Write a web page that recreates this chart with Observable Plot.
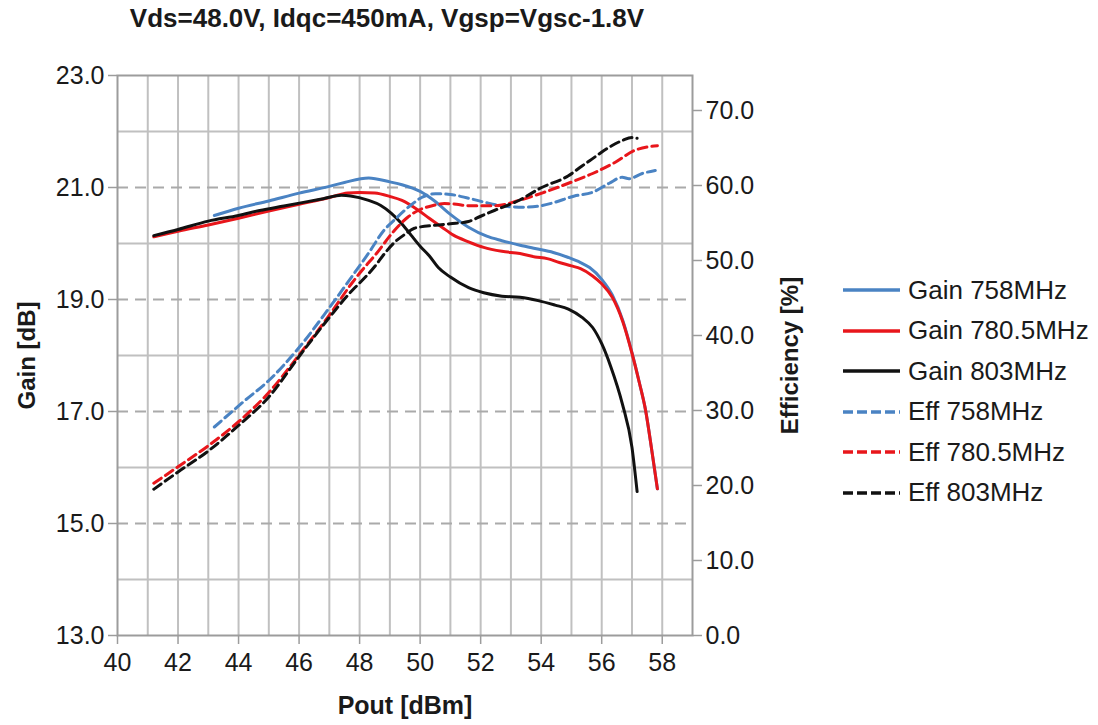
<!DOCTYPE html>
<html><head><meta charset="utf-8">
<script src="https://cdn.jsdelivr.net/npm/d3@7"></script>
<script src="https://cdn.jsdelivr.net/npm/@observablehq/plot@0.6"></script>
<style>
body{margin:0;background:#fff;font-family:"Liberation Sans",Arial,sans-serif;}
#wrap{position:relative;width:1098px;height:725px;overflow:hidden;}
#wrap svg.chart{position:absolute;left:0;top:0;}
#title{position:absolute;left:0;width:774px;top:3px;text-align:center;font-weight:bold;font-size:26px;color:#1a1a1a;white-space:nowrap;}
#legend{position:absolute;left:843px;top:270px;}
.row{display:flex;align-items:center;height:40.5px;font-size:26px;color:#1a1a1a;white-space:nowrap;}
.row svg{margin-right:8px;}
</style></head>
<body>
<div id="wrap">
  <div id="title">Vds=48.0V, Idqc=450mA, Vgsp=Vgsc-1.8V</div>
  <div id="legend"></div>
</div>
<script>
// ---- tick labels / grid values ----
const poutTicks = [40,42,44,46,48,50,52,54,56,58];
const poutGrid = [41,42,43,44,45,46,47,48,49,50,51,52,53,54,55,56,57,58];
const gainTicks = [13,15,17,19,21,23];
const gainGridSolid = [14,16,18,20,22];
const gainGridDashed = [15,17,19,21];
const effTicks = [0,10,20,30,40,50,60,70];

// ---- Gain 758MHz ----
const pout_g758 = [43.2,44.0,45.0,46.0,47.0,47.5,48.3,49.0,49.4,50.0,50.5,51.0,51.6,52.2,52.7,53.3,53.8,54.4,54.9,55.3,55.6,56.0,56.35,56.7,57.0,57.25,57.45,57.67,57.84];
const gain758 = [20.50,20.63,20.76,20.90,21.02,21.09,21.17,21.10,21.05,20.93,20.75,20.52,20.29,20.13,20.05,19.97,19.91,19.84,19.75,19.66,19.57,19.36,19.08,18.62,18.05,17.50,17.02,16.25,15.62];
// ---- Gain 780.5MHz ----
const pout_g780 = [41.2,42.0,43.0,44.0,45.0,46.0,47.0,47.6,48.0,48.5,49.0,49.4,49.95,50.3,50.7,51.1,51.6,52.1,52.7,53.3,53.8,54.2,54.6,55.0,55.3,55.7,56.0,56.35,56.7,57.0,57.25,57.45,57.67,57.84];
const gain780 = [20.12,20.22,20.33,20.45,20.58,20.70,20.82,20.90,20.91,20.90,20.84,20.77,20.59,20.45,20.30,20.15,20.03,19.93,19.86,19.82,19.76,19.73,19.66,19.60,19.55,19.42,19.28,19.04,18.60,18.04,17.50,17.02,16.25,15.62];
// ---- Gain 803MHz ----
const pout_g803 = [41.2,42.0,43.0,44.0,44.7,45.5,46.1,46.8,47.4,47.7,48.3,48.7,49.05,49.4,49.7,50.0,50.3,50.6,51.0,51.6,52.1,52.7,53.3,53.9,54.46,54.9,55.35,55.7,56.0,56.3,56.68,57.0,57.17];
const gain803 = [20.14,20.25,20.40,20.50,20.59,20.67,20.73,20.80,20.86,20.85,20.77,20.68,20.54,20.35,20.15,19.95,19.78,19.57,19.40,19.21,19.12,19.06,19.04,18.98,18.90,18.83,18.68,18.50,18.21,17.80,17.14,16.36,15.57];

// ---- Eff 758MHz ----
const pout_e758 = [43.2,44.2,45.0,46.0,47.0,48.0,48.3,48.8,49.2,49.7,50.05,50.5,51.0,51.6,52.2,52.7,53.4,54.0,54.4,55.1,55.7,56.25,56.68,56.9,57.34,57.77];
const eff758 = [27.8,31.3,34.0,38.4,43.7,49.3,51.0,54.0,55.6,57.4,58.4,58.9,58.8,58.3,57.7,57.3,57.1,57.3,57.7,58.6,59.1,60.3,61.1,60.9,61.6,62.0];
// ---- Eff 780.5MHz ----
const pout_e780 = [41.2,42.0,43.0,44.0,45.0,46.0,47.0,47.73,48.0,48.55,49.15,49.6,49.95,50.4,50.8,51.2,51.6,52.47,53.26,54.1,54.9,55.7,56.45,57.1,57.84];
const eff780 = [20.3,22.5,25.3,28.5,32.4,37.4,42.7,46.9,48.3,50.9,54.0,55.8,56.7,57.3,57.6,57.5,57.3,57.3,58.0,59.1,60.3,61.6,63.1,64.7,65.3];
// ---- Eff 803MHz ----
const pout_e803 = [41.2,42.0,43.0,44.0,45.0,46.0,47.0,47.8,48.0,48.5,48.82,49.15,49.5,49.81,50.5,51.0,51.6,52.0,52.47,53.26,54.0,54.9,55.35,55.6,56.25,56.68,57.0,57.17];
const eff803 = [19.5,21.8,24.6,28.0,31.8,37.2,42.4,46.2,47.0,49.2,50.9,52.4,53.5,54.3,54.7,54.9,55.2,55.9,56.7,58.0,59.7,61.3,62.6,63.3,65.1,66.0,66.4,66.3];

const seriesNames = ["Gain 758MHz","Gain 780.5MHz","Gain 803MHz","Eff 758MHz","Eff 780.5MHz","Eff 803MHz"];
const seriesColors = ["#4a83c3","#e8161b","#111111","#4a83c3","#e8161b","#111111"];

const rows = (xs, ys) => xs.map((x, i) => ({x, y: ys[i]}));
const gainSeries = [[pout_g758, gain758, 0],[pout_g780, gain780, 1],[pout_g803, gain803, 2]];
const effSeries = [[pout_e758, eff758, 3],[pout_e780, eff780, 4],[pout_e803, eff803, 5]];

const FONT = '"Liberation Sans", Arial, sans-serif';
const common = {
  width: 1098, height: 725,
  marginLeft: 117, marginRight: 406, marginTop: 75, marginBottom: 90,
  style: {fontFamily: FONT, fontSize: "25px", color: "#1a1a1a", background: "transparent", overflow: "visible"}
};
const GRID = "#c0c0c0", AXIS = "#9c9c9c";

const gainPlot = Plot.plot({
  ...common,
  x: {domain: [40, 59]},
  y: {domain: [13, 23]},
  marks: [
    Plot.ruleX(poutGrid, {stroke: GRID, strokeWidth: 2}),
    Plot.ruleY(gainGridSolid, {stroke: GRID, strokeWidth: 2}),
    Plot.ruleY(gainGridDashed, {stroke: "#aaaaaa", strokeWidth: 2, strokeDasharray: "11,7"}),
    Plot.frame({stroke: AXIS, strokeWidth: 2}),
    Plot.axisY({ticks: gainTicks, tickFormat: d3.format(".1f"), tickSize: 9, tickPadding: 4, label: null, stroke: AXIS, strokeWidth: 1.5}),
    Plot.axisX({ticks: poutTicks, tickSize: 9, tickPadding: 9, label: null, stroke: AXIS, strokeWidth: 1.5}),
    ...gainSeries.map(([xs, ys, k]) => Plot.line(rows(xs, ys), {x: "x", y: "y", stroke: seriesColors[k], strokeWidth: 3, curve: "monotone-x"})),
    Plot.text(["Gain [dB]"], {frameAnchor: "left", textAnchor: "middle", dx: -90, rotate: -90, fontWeight: "bold", fontSize: 24, fill: "#1a1a1a"}),
    Plot.text(["Pout [dBm]"], {frameAnchor: "bottom", textAnchor: "middle", dy: 78, fontWeight: "bold", fontSize: 25, fill: "#1a1a1a"})
  ]
});
gainPlot.classList.add("chart");

const effPlot = Plot.plot({
  ...common,
  x: {domain: [40, 59], axis: null},
  y: {domain: [0, 560 / 7.5]},
  marks: [
    Plot.axisY({anchor: "right", ticks: effTicks, tickFormat: d3.format(".1f"), tickSize: 9, tickPadding: 4, label: null, stroke: AXIS, strokeWidth: 1.5}),
    ...effSeries.map(([xs, ys, k]) => Plot.line(rows(xs, ys), {x: "x", y: "y", stroke: seriesColors[k], strokeWidth: 3, strokeDasharray: "9,5", curve: "monotone-x"})),
    Plot.text(["Efficiency [%]"], {frameAnchor: "right", textAnchor: "middle", dx: 98, rotate: -90, fontWeight: "bold", fontSize: 24, fill: "#1a1a1a"})
  ]
});
effPlot.classList.add("chart");

const wrap = document.getElementById("wrap");
wrap.insertBefore(effPlot, wrap.firstChild);
wrap.insertBefore(gainPlot, wrap.firstChild);

// legend
const legend = document.getElementById("legend");
seriesNames.forEach((name, i) => {
  const row = document.createElement("div");
  row.className = "row";
  const dash = i >= 3 ? ' stroke-dasharray="10,4"' : '';
  row.innerHTML = `<svg width="57" height="10"><line x1="0" y1="5" x2="57" y2="5" stroke="${seriesColors[i]}" stroke-width="3.5"${dash}/></svg><span>${name}</span>`;
  legend.appendChild(row);
});
</script>
</body></html>
